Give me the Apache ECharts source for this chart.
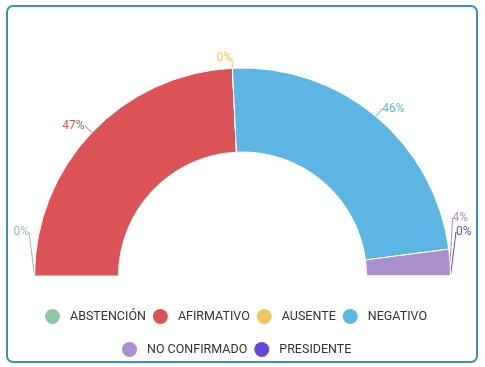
<!DOCTYPE html>
<html>
<head>
<meta charset="utf-8">
<style>
  html, body { margin: 0; padding: 0; background: #fff; }
  #chart { width: 485px; height: 367px; }
</style>
<script src="https://cdn.jsdelivr.net/npm/echarts@6/dist/echarts.min.js"></script>
</head>
<body>
<div id="chart"></div>
<script>
const categories = ['ABSTENCIÓN', 'AFIRMATIVO', 'AUSENTE', 'NEGATIVO', 'NO CONFIRMADO', 'PRESIDENTE'];
const percentValues = [0, 47, 0, 46, 4, 0];
const colors = ['#8ec5a3', '#db5257', '#f1c660', '#5db5e4', '#a98fcb', '#6449d8'];
const legendRow1 = ['ABSTENCIÓN', 'AFIRMATIVO', 'AUSENTE', 'NEGATIVO'];
const legendRow2 = ['NO CONFIRMADO', 'PRESIDENTE'];
// the top label is laid out on its own so it does not squeeze the others
const separatelyLaidOut = ['AUSENTE'];

const chart = echarts.init(document.getElementById('chart'), null, { renderer: 'canvas' });

const legendCommon = {
  orient: 'horizontal',
  icon: 'circle',
  padding: 0,
  itemWidth: 25,
  itemHeight: 15,
  itemGap: 7,
  itemStyle: { borderWidth: 0 },
  textStyle: { fontFamily: 'Roboto', fontSize: 12.5, color: '#333' }
};

function pieBase() {
  return {
    type: 'pie',
    top: 0,
    bottom: 128,
    left: 0,
    right: 0,
    center: ['50%', 276],
    radius: [124, 208],
    startAngle: 180,
    endAngle: 0,
    avoidLabelOverlap: true,
    label: {
      show: true,
      formatter: '{c}%',
      fontFamily: 'Roboto',
      fontSize: 12,
      distanceToLabelLine: 0
    },
    labelLine: { show: true, length: 10, length2: 0, lineStyle: { width: 1 } }
  };
}

const mainSeries = Object.assign(pieBase(), {
  name: 'votos',
  itemStyle: { borderColor: '#fff', borderWidth: 1 },
  data: categories.map((name, i) => ({
    name: name,
    value: percentValues[i],
    label: { show: separatelyLaidOut.includes(name), color: colors[i] },
    labelLine: { show: separatelyLaidOut.includes(name), lineStyle: { color: colors[i] } }
  }))
});

const labelSeries = Object.assign(pieBase(), {
  name: 'etiquetas',
  silent: true,
  legendHoverLink: false,
  emphasis: { disabled: true },
  itemStyle: { color: 'rgba(0,0,0,0)', borderWidth: 0 },
  data: categories.map((name, i) => ({
    name: name,
    value: percentValues[i],
    itemStyle: { color: 'rgba(0,0,0,0)' },
    label: { show: !separatelyLaidOut.includes(name), color: colors[i] },
    labelLine: { show: !separatelyLaidOut.includes(name), lineStyle: { color: colors[i] } }
  }))
});

chart.setOption({
  color: colors,
  animation: false,
  graphic: [{
    type: 'rect',
    shape: { x: 7, y: 6, width: 470, height: 356, r: 6 },
    style: { fill: 'none', stroke: '#3d8fbf', lineWidth: 2 },
    silent: true
  }],
  legend: [
    Object.assign({ top: 309, left: 45, data: legendRow1 }, legendCommon),
    Object.assign({ top: 342, left: 122, data: legendRow2 }, legendCommon)
  ],
  series: [mainSeries, labelSeries]
});
</script>
</body>
</html>
